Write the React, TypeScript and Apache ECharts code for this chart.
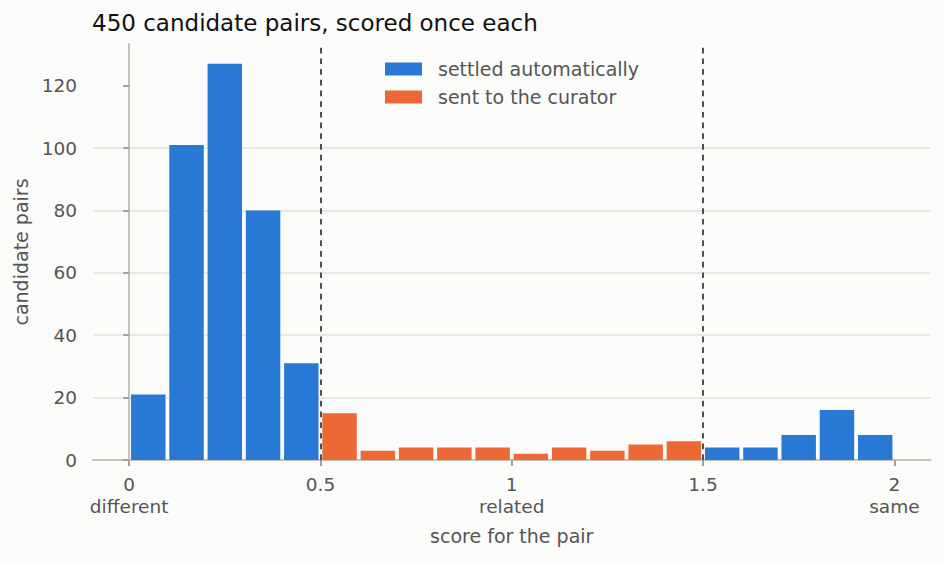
import React, { useEffect, useRef } from 'react';
import * as echarts from 'echarts';

// ---- data ----
const settledBinStarts = [0, 0.1, 0.2, 0.3, 0.4, 1.5, 1.6, 1.7, 1.8, 1.9];
const settledCounts = [21, 101, 127, 80, 31, 4, 4, 8, 16, 8];
const curatorBinStarts = [0.5, 0.6, 0.7, 0.8, 0.9, 1.0, 1.1, 1.2, 1.3, 1.4];
const curatorCounts = [15, 3, 4, 4, 4, 2, 4, 3, 5, 6];
const thresholds = [0.5, 1.5];
const xTickValues = [0, 0.5, 1, 1.5, 2];
const xTickLabels = ['0\ndifferent', '0.5', '1\nrelated', '1.5', '2\nsame'];
const yTickValues = [0, 20, 40, 60, 80, 100, 120];

const BIN_WIDTH = 0.1;
const BAR_INSET = 0.005;
const FONT = "'DejaVu Sans', sans-serif";
const BLUE = '#2878d6';
const ORANGE = '#ec6834';
const TEXT = '#555555';

function toPairs(xs: number[], ys: number[]) {
  return xs.map((x, i) => [x, ys[i]]);
}

const renderBar = (params: any, api: any) => {
  const start = api.value(0) as number;
  const count = api.value(1) as number;
  const p0 = api.coord([start + BAR_INSET, count]);
  const p1 = api.coord([start + BIN_WIDTH - BAR_INSET, 0]);
  return {
    type: 'rect',
    shape: { x: p0[0], y: p0[1], width: p1[0] - p0[0], height: p1[1] - p0[1] },
    style: { fill: api.visual('color') },
  };
};

export default function App() {
  const ref = useRef<HTMLDivElement>(null);
  useEffect(() => {
    if (!ref.current) return;
    const chart = echarts.init(ref.current, undefined, { renderer: 'svg' });
    chart.setOption({
      animation: false,
      backgroundColor: '#fbfbf9',
      textStyle: { fontFamily: FONT },
      title: {
        text: '450 candidate pairs, scored once each',
        left: 92,
        top: 11,
        padding: 0,
        textStyle: { fontFamily: FONT, fontSize: 23, fontWeight: 'normal', color: '#111111' },
      },
      legend: {
        orient: 'vertical',
        left: 385,
        top: 58,
        padding: 0,
        itemWidth: 37,
        itemHeight: 13,
        itemGap: 6,
        icon: 'rect',
        selectedMode: false,
        textStyle: { fontFamily: FONT, fontSize: 19, color: TEXT, lineHeight: 22, padding: [0, 0, 0, 11] },
      },
      grid: { left: 93, right: 13.5, top: 44, bottom: 102, containLabel: false },
      xAxis: {
        type: 'value',
        min: -0.0945,
        max: 2.0945,
        name: 'score for the pair',
        nameLocation: 'middle',
        nameGap: 66,
        nameTextStyle: { fontFamily: FONT, fontSize: 19, color: TEXT },
        axisLine: { show: true, onZero: false, lineStyle: { color: '#c4c4bc', width: 2 } },
        axisTick: { show: true, length: 6, customValues: xTickValues, lineStyle: { color: '#a0a0a0', width: 2 } },
        axisLabel: {
          customValues: xTickValues,
          margin: 13,
          fontFamily: FONT,
          fontSize: 18.5,
          lineHeight: 22,
          color: TEXT,
          formatter: (v: number) => {
            const i = xTickValues.findIndex((t) => Math.abs(t - v) < 1e-9);
            return i >= 0 ? xTickLabels[i] : '';
          },
        },
        splitLine: { show: false },
      },
      yAxis: {
        type: 'value',
        min: 0,
        max: 133.35,
        interval: 20,
        name: 'candidate pairs',
        nameLocation: 'middle',
        nameGap: 56,
        nameTextStyle: { fontFamily: FONT, fontSize: 19, color: TEXT },
        axisLine: { show: true, lineStyle: { color: '#c4c4bc', width: 2 } },
        axisTick: { show: true, length: 6, customValues: yTickValues, lineStyle: { color: '#a0a0a0', width: 2 } },
        axisLabel: {
          customValues: yTickValues,
          margin: 16,
          fontFamily: FONT,
          fontSize: 18.5,
          color: TEXT,
        },
        splitLine: { show: true, showMaxLine: false, showMinLine: false, lineStyle: { color: '#e2e2da', width: 1.5 } },
      },
      series: [
        {
          name: 'settled automatically',
          type: 'custom',
          renderItem: renderBar,
          itemStyle: { color: BLUE },
          encode: { x: 0, y: 1 },
          data: toPairs(settledBinStarts, settledCounts),
          silent: true,
        },
        {
          name: 'sent to the curator',
          type: 'custom',
          renderItem: renderBar,
          itemStyle: { color: ORANGE },
          encode: { x: 0, y: 1 },
          data: toPairs(curatorBinStarts, curatorCounts),
          silent: true,
          markLine: {
            silent: true,
            symbol: 'none',
            label: { show: false },
            lineStyle: { color: '#505050', width: 2, type: [5.7, 5] },
            emphasis: { disabled: true },
            data: thresholds.map((t) => ({ xAxis: t })),
          },
        },
      ],
    });
    return () => chart.dispose();
  }, []);
  return (
    <div
      ref={ref}
      style={{ position: 'absolute', left: 0, top: 0, width: 944, height: 562, background: '#fbfbf9' }}
    />
  );
}
